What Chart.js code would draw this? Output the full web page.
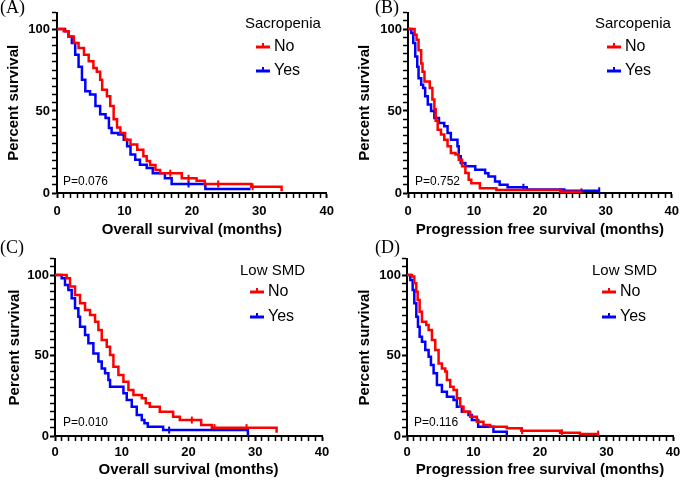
<!DOCTYPE html>
<html>
<head>
<meta charset="utf-8">
<script src="https://cdn.jsdelivr.net/npm/chart.js@4.4.1/dist/chart.umd.min.js"></script>
<style>
  html, body { margin: 0; padding: 0; background: #fff; }
  #wrap { position: relative; width: 685px; height: 481px; overflow: hidden; }
  canvas { position: absolute; }
</style>
</head>
<body>
<div id="wrap">
  <canvas id="panelA" width="340" height="240" style="left:0;top:0;width:340px;height:240px"></canvas>
  <canvas id="panelB" width="345" height="240" style="left:340px;top:0;width:345px;height:240px"></canvas>
  <canvas id="panelC" width="340" height="241" style="left:0;top:240px;width:340px;height:241px"></canvas>
  <canvas id="panelD" width="345" height="241" style="left:340px;top:240px;width:345px;height:241px"></canvas>
</div>
<script>
// Kaplan-Meier curves: [months, percent survival]
// (A) overall survival, sarcopenia
const aNo = [[0,100],[1.0,98.6],[1.7,95.5],[2.5,91.5],[3.2,88.4],[4.0,84.3],[4.7,80.3],[5.4,76.2],[5.9,74],[6.4,69],[6.7,63],[7.4,59],[7.9,53],[8.4,45],[8.9,40],[9.4,36.6],[10.1,32.5],[10.9,29.5],[11.9,26.4],[12.8,22.4],[13.3,19.5],[13.8,17],[14.6,14],[15.3,12],[18.5,9],[20.7,7.5],[21.9,5.5],[28.8,3.8],[33.3,1]];
const aYes = [[0,100],[1.2,98.6],[1.7,95.5],[2.2,91.5],[2.7,84.3],[3.2,77],[3.7,69],[4.2,62],[4.9,60],[5.7,53],[6.4,48],[7.2,45.7],[7.7,39.6],[8.1,36.6],[9.1,35.6],[9.9,32.5],[10.4,28.5],[10.9,23.4],[11.6,20.3],[12.3,17.3],[13.3,15.2],[14.2,12],[16.0,9],[17.0,5.5],[22.0,2.4],[28.7,2.4]];
const aNoCens = [[16.8,12],[19.5,9],[23.9,5.5],[29.0,3.8]];
const aYesCens = [[19.5,5.5]];

// (B) progression free survival, sarcopenia
const bNo = [[0,100],[0.5,100],[1.0,96.5],[1.3,93.5],[1.6,87],[2.0,79],[2.2,74],[2.5,68],[3.3,64],[3.7,57],[4.0,51],[4.2,44],[4.5,38.6],[5.0,35.6],[5.5,32.5],[6.0,28.5],[6.5,24.4],[7.2,23.4],[7.7,20.3],[8.2,16.3],[8.7,12.2],[9.2,8.1],[9.6,6],[10.9,2.9],[13.4,1.8],[23.1,0.8],[26.3,0.8]];
const bYes = [[0,100],[0.5,97.6],[0.8,91.5],[1.1,83.3],[1.4,77],[1.6,70],[2.0,66],[2.3,64],[2.6,59],[3.0,54],[3.5,50],[4.0,45.7],[4.7,42.7],[5.5,40.7],[6.0,36.6],[6.5,32.5],[7.5,28.5],[7.7,22.4],[8.0,18.3],[8.7,16.3],[10.2,14.2],[11.7,12],[12.2,10],[13.2,7],[13.9,5],[15.1,3.5],[18.0,2.2],[23.7,1.4],[29.0,1.4]];
const bNoCens = [[23.1,0.8],[26.3,0.8]];
const bYesCens = [[17.5,3.5],[29.0,1.4]];

// (C) overall survival, low SMD
const cNo = [[0,100],[1.75,98],[2.25,92.8],[3.0,87.6],[3.75,82.4],[4.5,78.3],[5.25,75.2],[6.0,71],[6.5,65.8],[7.0,59.6],[7.75,55.5],[8.25,50.3],[8.75,43],[9.5,37.9],[10.25,33.7],[11.0,28.6],[11.75,25.5],[13.0,23.4],[13.6,20.3],[14.2,18.2],[15.7,15],[17.7,12],[18.7,9.9],[21.9,6.8],[23.5,5.2],[33.2,2]];
const cYes = [[0,100],[1.0,98],[1.5,93.8],[2.0,90.7],[2.5,85.5],[3.0,79.3],[3.5,74.1],[3.75,67.9],[4.5,62.7],[5.0,57.6],[5.75,51.3],[6.5,46.2],[7.0,42],[7.5,38.9],[8.0,34.8],[8.25,30.6],[10.25,26.5],[10.75,22.4],[11.5,18.2],[12.25,13],[13.0,10],[13.4,7.9],[13.9,5.8],[16.2,3.7],[28.9,0]];
const cNoCens = [[20.5,9.9],[23.9,5.2],[28.7,5.2]];
const cYesCens = [[17.1,3.7]];

// (D) progression free survival, low SMD
const dNo = [[0,100],[0.75,99],[1.1,94.8],[1.4,89.6],[1.6,84.5],[1.9,77.2],[2.25,71],[2.9,69],[3.25,65.8],[3.75,59.6],[4.25,53.4],[4.75,45.1],[5.25,42],[5.75,40],[6.0,34.8],[6.5,30.6],[7.0,28.6],[7.5,23.4],[8.0,18.2],[8.5,15.1],[9.5,12],[10.5,8.9],[11.5,6.8],[12.5,5.8],[15.0,4.8],[17.2,3.3],[23.0,2.0],[26.0,1.2],[28.75,1.2]];
const dYes = [[0,100],[0.5,96.9],[0.85,90.7],[1.1,82.4],[1.4,74],[1.65,67.9],[1.9,61.7],[2.25,58.6],[2.75,53.4],[3.25,49.3],[3.6,44.1],[4.0,38.9],[4.5,31.7],[5.25,27.5],[6.0,24.4],[7.0,22.4],[7.5,18.2],[8.25,15.1],[9.25,13],[9.75,10],[10.7,5.8],[13.0,2.7],[15.0,0]];
const dNoCens = [[17.3,3.3],[23.3,2.0],[28.75,1.2]];
const dYesCens = [];

const groups = ['No', 'Yes'];
const xTickLabels = [0, 10, 20, 30, 40];
const yTickLabels = [0, 50, 100];

const RED = 'rgb(255,0,0)';
const BLUE = 'rgb(0,0,255)';
const SANS = "'Liberation Sans', Arial, sans-serif";

function pts(pairs) {
  return pairs.map(p => ({ x: p[0], y: p[1] }));
}

// legend, P value and panel letter drawn on top of each chart
const kmText = {
  id: 'kmText',
  afterDraw(chart, args, o) {
    const ctx = chart.ctx;
    ctx.save();
    ctx.fillStyle = '#000';
    ctx.textAlign = 'left';
    ctx.textBaseline = 'middle';
    ctx.font = "18px 'Liberation Serif', 'Times New Roman', serif";
    ctx.fillText(o.panel, o.panelX, 8);
    ctx.font = '15px ' + SANS;
    ctx.fillText(o.legendTitle, o.titleX, o.titleY);
    [RED, BLUE].forEach((col, i) => {
      const y = o.rowY[i];
      ctx.strokeStyle = col;
      ctx.lineWidth = 3;
      ctx.beginPath();
      ctx.moveTo(o.markX, y);
      ctx.lineTo(o.markX + 14, y);
      ctx.stroke();
      ctx.lineWidth = 2;
      ctx.beginPath();
      ctx.moveTo(o.markX + 7, y);
      ctx.lineTo(o.markX + 7, y - 4);
      ctx.stroke();
      ctx.fillStyle = '#000';
      ctx.font = '16px ' + SANS;
      ctx.fillText(groups[i], o.markX + 18, y);
    });
    ctx.font = '12px ' + SANS;
    ctx.fillText(o.pText, o.pX, o.pY);
    ctx.restore();
  }
};

function makeKM(id, p) {
  const line = (data, col) => ({
    data: pts(data), borderColor: col, borderWidth: 2.5, stepped: true,
    pointRadius: 0, fill: false
  });
  const cens = (data, col) => ({
    data: pts(data), showLine: false, pointStyle: 'line', rotation: 90,
    pointRadius: 3.5, borderColor: col, pointBorderWidth: 2, borderWidth: 2
  });
  new Chart(document.getElementById(id), {
    type: 'line',
    data: {
      datasets: [
        line(p.no, RED), line(p.yes, BLUE),
        cens(p.noCens, RED), cens(p.yesCens, BLUE)
      ]
    },
    options: {
      responsive: false,
      animation: false,
      events: [],
      layout: { padding: { left: p.padL, right: p.padR, top: p.padT, bottom: 0 } },
      plugins: {
        legend: { display: false },
        tooltip: { enabled: false },
        kmText: p.text
      },
      scales: {
        x: {
          type: 'linear', min: 0, max: 40,
          afterFit: s => { s.height = p.xH; },
          ticks: {
            stepSize: 1, autoSkip: false, maxRotation: 0, padding: p.xPad,
            color: '#000', font: { family: SANS, size: 13, weight: 'bold' },
            callback: v => (xTickLabels.includes(v) ? String(v) : '')
          },
          grid: {
            drawOnChartArea: false, tickLength: 5, tickColor: '#000',
            tickWidth: c => (c.tick && c.tick.value % 10 === 0 ? 2 : 1.5)
          },
          border: { color: '#000', width: 2 },
          title: {
            display: true, text: p.xTitle, color: '#000',
            font: { family: SANS, size: 15, weight: 'bold' },
            padding: { top: 0, bottom: p.xTitlePad }
          }
        },
        y: {
          type: 'linear', min: 0, max: 110,
          afterFit: s => { s.width = p.yW; },
          ticks: {
            stepSize: 5, autoSkip: false, padding: p.yPad,
            color: '#000', font: { family: SANS, size: 13, weight: 'bold' },
            callback: v => (yTickLabels.includes(v) ? String(v) : '')
          },
          grid: {
            drawOnChartArea: false, tickLength: 5, tickColor: '#000',
            tickWidth: c => (c.tick && c.tick.value % 50 === 0 ? 2 : 1.5)
          },
          border: { color: '#000', width: 2 },
          title: {
            display: true, text: 'Percent survival', color: '#000',
            font: { family: SANS, size: 15, weight: 'bold' },
            padding: { top: p.yTitlePad, bottom: 0 }
          }
        }
      }
    },
    plugins: [kmText]
  });
}

makeKM('panelA', {
  no: aNo, yes: aYes, noCens: aNoCens, yesCens: aYesCens,
  xTitle: 'Overall survival (months)',
  padL: 0, padR: 13, padT: 12.6, yW: 57, xH: 47,
  xPad: 6, yPad: 2, xTitlePad: 1, yTitlePad: 5,
  text: { panel: '(A)', panelX: 0, legendTitle: 'Sacropenia', titleX: 245, titleY: 24,
          markX: 256, rowY: [47, 71], pText: 'P=0.076', pX: 63, pY: 182 }
});

makeKM('panelB', {
  no: bNo, yes: bYes, noCens: bNoCens, yesCens: bYesCens,
  xTitle: 'Progression free survival (months)',
  padL: 11, padR: 8, padT: 12.6, yW: 57, xH: 47,
  xPad: 6, yPad: 1, xTitlePad: 1, yTitlePad: 5,
  text: { panel: '(B)', panelX: 35, legendTitle: 'Sarcopenia', titleX: 255, titleY: 24,
          markX: 267, rowY: [47, 71], pText: 'P=0.752', pX: 75, pY: 182 }
});

makeKM('panelC', {
  no: cNo, yes: cYes, noCens: cNoCens, yesCens: cYesCens,
  xTitle: 'Overall survival (months)',
  padL: 0, padR: 18, padT: 18.9, yW: 55, xH: 45,
  xPad: 4, yPad: 1, xTitlePad: 2, yTitlePad: 6,
  text: { panel: '(C)', panelX: 0, legendTitle: 'Low SMD', titleX: 240, titleY: 31,
          markX: 250, rowY: [52, 77], pText: 'P=0.010', pX: 63, pY: 183 }
});

makeKM('panelD', {
  no: dNo, yes: dYes, noCens: dNoCens, yesCens: dYesCens,
  xTitle: 'Progression free survival (months)',
  padL: 12, padR: 12, padT: 18.9, yW: 55, xH: 45,
  xPad: 4, yPad: 1, xTitlePad: 2, yTitlePad: 4,
  text: { panel: '(D)', panelX: 35, legendTitle: 'Low SMD', titleX: 252, titleY: 31,
          markX: 262, rowY: [52, 77], pText: 'P=0.116', pX: 74, pY: 183 }
});
</script>
</body>
</html>
